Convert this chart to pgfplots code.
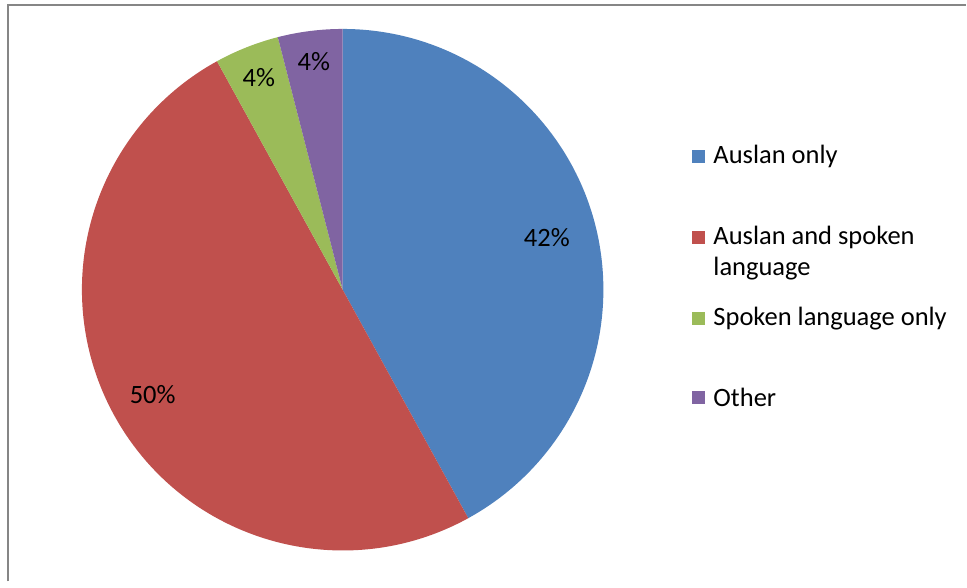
\documentclass[border=0pt]{standalone}
\usepackage{pgfplots}
\pgfplotsset{compat=1.18}
\usepackage{pgfplotstable}
\usetikzlibrary{calc}
\usepackage{fontspec}
\setmainfont{Carlito}

\definecolor{cBlue}{HTML}{4F81BD}
\definecolor{cRed}{HTML}{C0504D}
\definecolor{cGreen}{HTML}{9BBB59}
\definecolor{cPurple}{HTML}{8064A2}
\definecolor{frame}{HTML}{868686}

% share of respondents (percent), slice colour, label radius
\pgfplotstableread[col sep=comma]{
name,value,col,lr
Auslan only,42,cBlue,211
Auslan and spoken language,50,cRed,217
Spoken language only,4,cGreen,228
Other,4,cPurple,230
}\piedata

\begin{document}
\begin{tikzpicture}
\begin{axis}[
    x=1bp, y=1bp,
    xmin=0, xmax=967, ymin=0, ymax=582,
    hide axis, clip=false,
    font=\fontsize{26.5bp}{31bp}\selectfont,
]
  % canvas and frame
  \fill[white] (axis cs:0,0) rectangle (axis cs:967,582);
  \draw[frame, line width=2bp] (axis cs:8,0) -- (axis cs:8,577) -- (axis cs:967,577);

  \def\startangle{90}
  \pgfplotsforeachungrouped \i in {0,...,3}{
    \pgfplotstablegetelem{\i}{value}\of\piedata \let\val\pgfplotsretval
    \pgfplotstablegetelem{\i}{col}\of\piedata \let\col\pgfplotsretval
    \pgfplotstablegetelem{\i}{lr}\of\piedata \let\lr\pgfplotsretval
    \pgfmathsetmacro\endangle{\startangle-3.6*\val}
    \pgfmathsetmacro\midangle{(\startangle+\endangle)/2}
    \edef\cmd{%
      \noexpand\fill[\col] (axis cs:343,292) -- ++(\startangle:261bp)
        arc[start angle=\startangle, end angle=\endangle, radius=261bp] -- cycle;
      \noexpand\node at ($(axis cs:343,292)+(\midangle:\lr bp)$) {\val\noexpand\%};
    }
    \cmd
    \global\let\startangle\endangle
  }

  % legend
  \fill[cBlue]   (axis cs:693,418.5) rectangle ++(13bp,13bp);
  \fill[cRed]    (axis cs:693,337.5) rectangle ++(13bp,13bp);
  \fill[cGreen]  (axis cs:693,256.5) rectangle ++(13bp,13bp);
  \fill[cPurple] (axis cs:693,177.5) rectangle ++(13bp,13bp);
  \node[anchor=west, inner sep=0pt] at (axis cs:714,425) {Auslan only};
  \node[anchor=west, inner sep=0pt] at (axis cs:714,344) {Auslan and spoken};
  \node[anchor=west, inner sep=0pt] at (axis cs:714,313) {language};
  \node[anchor=west, inner sep=0pt] at (axis cs:714,263) {Spoken language only};
  \node[anchor=west, inner sep=0pt] at (axis cs:714,184) {Other};
\end{axis}
\end{tikzpicture}
\end{document}
